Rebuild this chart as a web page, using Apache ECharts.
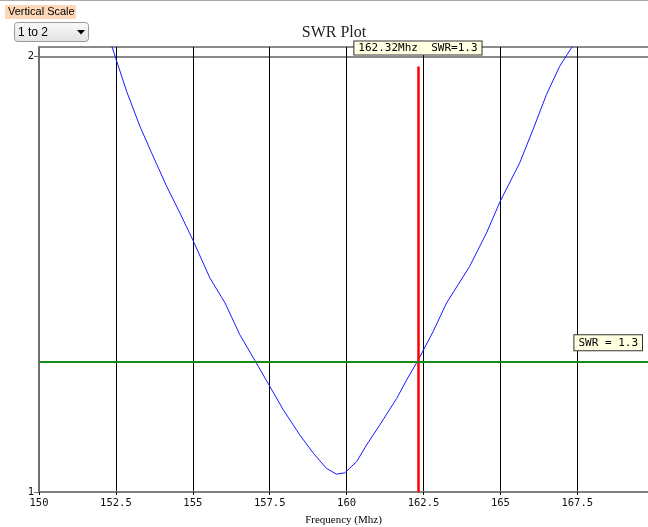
<!DOCTYPE html>
<html>
<head>
<meta charset="utf-8">
<script src="https://cdn.jsdelivr.net/npm/echarts@6/dist/echarts.min.js"></script>
<style>
html,body{margin:0;padding:0;background:#fff;}
#chart{width:648px;height:527px;}
</style>
</head>
<body>
<div id="chart"></div>
<script>
// Frequency (MHz) and SWR
const freqs = [152.25, 152.5, 152.85, 153.28, 153.66, 154.15, 154.58, 155.0, 155.56, 156.05, 156.53, 157.02, 157.51, 157.94, 158.48, 158.92, 159.35, 159.67, 159.94, 160.33, 160.65, 161.08, 161.63, 161.95, 162.32, 162.81, 163.25, 164.0, 164.55, 164.99, 165.63, 166.06, 166.5, 166.93, 167.31, 167.5];
const swr = [2.05, 1.995, 1.92, 1.84, 1.779, 1.702, 1.641, 1.579, 1.491, 1.434, 1.361, 1.302, 1.242, 1.189, 1.131, 1.089, 1.054, 1.041, 1.044, 1.07, 1.108, 1.154, 1.215, 1.257, 1.302, 1.368, 1.434, 1.518, 1.595, 1.667, 1.756, 1.832, 1.913, 1.978, 2.02, 2.05];
const markerFreq = 162.32;
const markerSwr = 1.3;
const thresholdSwr = 1.3;
const markerTop = 1.977;
const titleText = 'SWR Plot';
const xName = 'Frequency (Mhz)';
const scaleLabel = 'Vertical Scale';
const scaleValue = '1 to 2';

const mono = 'DejaVu Sans Mono';
const data = freqs.map((f, i) => [f, swr[i]]);

const chart = echarts.init(document.getElementById('chart'), null, {renderer: 'canvas'});
chart.setOption({
  animation: false,
  backgroundColor: '#fff',
  title: {
    text: titleText,
    left: 329, top: 20, textAlign: 'center',
    textStyle: {fontFamily: 'Liberation Serif', fontSize: 16, fontWeight: 'normal', color: '#222'}
  },
  grid: {left: 39, right: 0, top: 47, bottom: 35, outerBoundsMode: 'none', containLabel: false},
  xAxis: {
    type: 'value', min: 150, max: 169.8, interval: 2.5,
    name: xName, nameLocation: 'middle', nameGap: 23,
    nameTextStyle: {fontFamily: 'Liberation Serif', fontSize: 11, color: '#000'},
    axisLine: {show: true, onZero: false, lineStyle: {color: '#808080', width: 2}},
    axisTick: {show: true, length: 3, lineStyle: {color: '#000'}},
    axisLabel: {showMaxLabel: false, fontFamily: mono, fontSize: 10.5, color: '#111', margin: 6},
    splitLine: {show: true, lineStyle: {color: '#000', width: 1}}
  },
  yAxis: {
    type: 'value', min: 1, max: 2.022, interval: 1,
    axisLine: {show: true, lineStyle: {color: '#707070', width: 2}},
    axisTick: {show: true, length: 5, lineStyle: {color: '#707070'}},
    axisLabel: {showMaxLabel: false, fontFamily: mono, fontSize: 10.5, color: '#111', margin: 5},
    splitLine: {show: true, lineStyle: {color: '#8a8a8a', width: 2}}
  },
  series: [{
    type: 'line',
    data: data,
    symbol: 'none',
    clip: true,
    lineStyle: {color: '#1a1aff', width: 1},
    markLine: {
      silent: true,
      symbol: 'none',
      animation: false,
      data: [
        [
          {coord: [markerFreq, 1], lineStyle: {color: '#ff0000', width: 2.5, type: 'solid'},
           label: {show: true, position: 'end', formatter: markerFreq + 'Mhz  SWR=' + markerSwr,
             fontFamily: mono, fontSize: 11, color: '#000', backgroundColor: '#ffffe1',
             borderColor: '#333', borderWidth: 1, padding: [1, 4, 0, 4], lineHeight: 12, distance: 12}},
          {coord: [markerFreq, markerTop]}
        ],
        {yAxis: thresholdSwr, lineStyle: {color: '#168a16', width: 2, type: 'solid'},
         label: {show: true, position: 'insideEndTop', formatter: 'SWR = ' + thresholdSwr,
           fontFamily: mono, fontSize: 11, color: '#000', backgroundColor: '#ffffe1',
           borderColor: '#333', borderWidth: 1, padding: [2, 4, 1, 4], lineHeight: 12, distance: [6, 11]}}
      ]
    }
  }],
  graphic: [
    {type: 'rect', shape: {x: 0, y: 0, width: 648, height: 1}, style: {fill: '#a8a8a8'}},
    {type: 'rect', shape: {x: 5, y: 5, width: 71, height: 14}, style: {fill: '#fcd8b8'}},
    {type: 'text', x: 8, y: 12, style: {text: scaleLabel, fontFamily: 'Liberation Sans', fontSize: 11, fill: '#000', verticalAlign: 'middle'}},
    {type: 'rect', shape: {x: 14.5, y: 22.5, width: 74, height: 19, r: 3},
     style: {stroke: '#9a9a9a', lineWidth: 1,
       fill: new echarts.graphic.LinearGradient(0, 0, 0, 1, [{offset: 0, color: '#fafafa'}, {offset: 1, color: '#e2e2e2'}])}},
    {type: 'text', x: 18, y: 32.5, style: {text: scaleValue, fontFamily: 'Liberation Sans', fontSize: 12, fill: '#000', verticalAlign: 'middle'}},
    {type: 'polygon', shape: {points: [[77, 30], [85, 30], [81, 34.5]]}, style: {fill: '#000'}}
  ]
});
</script>
</body>
</html>
